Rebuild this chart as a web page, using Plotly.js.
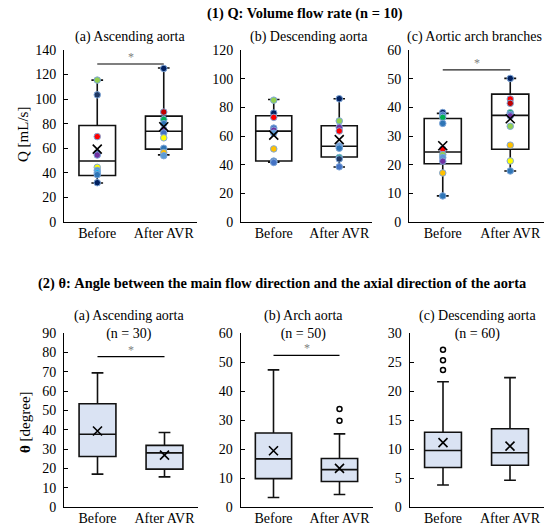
<!DOCTYPE html>
<html><head><meta charset="utf-8">
<script src="https://cdn.plot.ly/plotly-3.0.1.min.js"></script>
<style>html,body{margin:0;padding:0;background:#fff}</style>
</head><body><div id="chart" style="width:550px;height:529px"></div>
<script>
const groups = ['Before', 'After AVR'];

// (1) Q panels: box statistics [Before, After AVR]
const qAscQ1 = [37.8, 59.3], qAscMed = [49.7, 73.9], qAscQ3 = [78.6, 86.2], qAscLo = [31.8, 54.6], qAscHi = [115.5, 125.3], qAscMean = [59.3, 77.5];
const qDesQ1 = [42.6, 45.4], qDesMed = [63.4, 52.9], qDesQ3 = [74.1, 67.1], qDesLo = [41.8, 38.4], qDesHi = [85.5, 86.0], qDesMean = [60.6, 57.5];
const qBrQ1 = [20.3, 25.4], qBrMed = [24.4, 37.2], qBrQ3 = [36.1, 44.6], qBrLo = [9.1, 17.8], qBrHi = [37.9, 50.1], qBrMean = [26.6, 36.0];

// individual patients (n = 10)
const qAscBefore = [115.5, 103.5, 69.5, 56, 54.5, 44.5, 42, 40, 38.5, 32];
const qAscBeforeCol = ['#92D050', '#1F3864', '#FF0000', '#4472C4', '#7030A0', '#FFFF00', '#5B9BD5', '#00B0F0', '#2E75B6', '#002060'];
const qAscAfter = [125, 89.5, 83.5, 80, 75, 72.5, 68.5, 60, 56.5, 54];
const qAscAfterCol = ['#002060', '#C00000', '#00B050', '#2E75B6', '#7030A0', '#4472C4', '#FFFF00', '#2E75B6', '#FFC000', '#5B9BD5'];
const qDesBefore = [85, 76, 73, 65.5, 64, 62, 51, 42.5, 42, 41.5];
const qDesBeforeCol = ['#92D050', '#002060', '#FF0000', '#4472C4', '#7030A0', '#5B9BD5', '#FFC000', '#2E75B6', '#1F3864', '#4472C4'];
const qDesAfter = [86, 70.5, 66, 63.5, 53, 52.5, 51.5, 45, 44, 38.5];
const qDesAfterCol = ['#002060', '#92D050', '#7030A0', '#FF0000', '#4472C4', '#5B9BD5', '#2E75B6', '#00B050', '#1F3864', '#4472C4'];
const qBrBefore = [38.2, 37.3, 36.5, 34.4, 25.4, 23.5, 22.5, 21.2, 17.1, 9.1];
const qBrBeforeCol = ['#002060', '#4472C4', '#00B050', '#2E75B6', '#FF0000', '#92D050', '#5B9BD5', '#7030A0', '#FFC000', '#2E75B6'];
const qBrAfter = [50.1, 42.9, 41.4, 38.1, 37.5, 37, 33.4, 26.8, 21.3, 17.8];
const qBrAfterCol = ['#002060', '#FF0000', '#C00000', '#00B050', '#4472C4', '#7030A0', '#92D050', '#FFC000', '#FFFF00', '#2E75B6'];

// (2) theta panels: box statistics [Before, After AVR]
const tAscQ1 = [26.1, 19.6], tAscMed = [37.6, 28.0], tAscQ3 = [53.4, 31.9], tAscLo = [17.0, 15.6], tAscHi = [69.4, 38.5], tAscMean = [39.3, 26.8];
const tArQ1 = [9.8, 8.8], tArMed = [16.6, 12.9], tArQ3 = [25.5, 16.7], tArLo = [3.3, 4.3], tArHi = [47.3, 25.2], tArMean = [19.4, 13.3];
const tDesQ1 = [6.8, 7.2], tDesMed = [9.75, 9.35], tDesQ3 = [12.9, 13.5], tDesLo = [3.8, 4.6], tDesHi = [21.6, 22.3], tDesMean = [11.1, 10.5];
const tArOutAfter = [33.8, 29.7];
const tDesOutBefore = [27.1, 25.3, 23.6];

// significance bars (y level)
const sigQAsc = 128.6, sigQBr = 53.1, sigTAsc = 77.8, sigTAr = 52.3;

const qRanges = [[0, 140], [0, 120], [0, 60]], qDticks = [20, 20, 10];
const tRanges = [[0, 90], [0, 60], [0, 30]], tDticks = [10, 10, 5];

const FONT = 'Liberation Serif, Times New Roman, serif';
const traces = [];
function boxTrace(ax, q1, med, q3, lo, hi, fill) {
  traces.push({type: 'box', x: groups, q1: q1, median: med, q3: q3, lowerfence: lo, upperfence: hi,
    xaxis: 'x' + ax, yaxis: 'y' + ax, orientation: 'v', boxpoints: false, width: 0.55, whiskerwidth: 0.32,
    fillcolor: fill, line: {color: '#111', width: 1.6}, hoverinfo: 'skip'});
}
function pts(ax, grp, vals, cols) {
  traces.push({type: 'scatter', mode: 'markers', x: vals.map(() => grp), y: vals, xaxis: 'x' + ax, yaxis: 'y' + ax,
    marker: {size: 6.5, color: cols, line: {color: '#7FA7D9', width: 1}}, hoverinfo: 'skip'});
}
function meanTrace(ax, m) {
  traces.push({type: 'scatter', mode: 'markers', x: groups, y: m, xaxis: 'x' + ax, yaxis: 'y' + ax,
    marker: {symbol: 'x-thin', size: 9, color: '#000', line: {color: '#000', width: 1.6}}, hoverinfo: 'skip'});
}
function outTrace(ax, grp, vals) {
  traces.push({type: 'scatter', mode: 'markers', x: vals.map(() => grp), y: vals, xaxis: 'x' + ax, yaxis: 'y' + ax,
    marker: {symbol: 'circle-open', size: 5, color: '#000', line: {color: '#000', width: 1.5}}, hoverinfo: 'skip'});
}
function sigTrace(ax, y, col) {
  traces.push({type: 'scatter', mode: 'lines', x: groups, y: [y, y], xaxis: 'x' + ax, yaxis: 'y' + ax,
    line: {color: col, width: 1.3}, hoverinfo: 'skip'});
}

boxTrace('', qAscQ1, qAscMed, qAscQ3, qAscLo, qAscHi, '#fff');
pts('', 'Before', qAscBefore, qAscBeforeCol); pts('', 'After AVR', qAscAfter, qAscAfterCol);
meanTrace('', qAscMean); sigTrace('', sigQAsc, '#555');
boxTrace('2', qDesQ1, qDesMed, qDesQ3, qDesLo, qDesHi, '#fff');
pts('2', 'Before', qDesBefore, qDesBeforeCol); pts('2', 'After AVR', qDesAfter, qDesAfterCol);
meanTrace('2', qDesMean);
boxTrace('3', qBrQ1, qBrMed, qBrQ3, qBrLo, qBrHi, '#fff');
pts('3', 'Before', qBrBefore, qBrBeforeCol); pts('3', 'After AVR', qBrAfter, qBrAfterCol);
meanTrace('3', qBrMean); sigTrace('3', sigQBr, '#222');

boxTrace('4', tAscQ1, tAscMed, tAscQ3, tAscLo, tAscHi, '#DAE3F3'); meanTrace('4', tAscMean); sigTrace('4', sigTAsc, '#000');
boxTrace('5', tArQ1, tArMed, tArQ3, tArLo, tArHi, '#DAE3F3'); meanTrace('5', tArMean); outTrace('5', 'After AVR', tArOutAfter); sigTrace('5', sigTAr, '#000');
boxTrace('6', tDesQ1, tDesMed, tDesQ3, tDesLo, tDesHi, '#DAE3F3'); meanTrace('6', tDesMean); outTrace('6', 'Before', tDesOutBefore);

const W = 550, H = 529;
const xd = [[64, 197], [241, 372], [409, 544], [64, 198], [240.5, 372.5], [409.5, 543.5]];
const yd = [[50, 222], [50, 222], [50, 222], [333, 507], [333, 507], [333, 507]];
const layout = {width: W, height: H, margin: {l: 0, r: 0, t: 0, b: 0}, showlegend: false,
  paper_bgcolor: '#fff', plot_bgcolor: 'rgba(0,0,0,0)', font: {family: FONT, color: '#000', size: 14},
  annotations: [], shapes: []};
const ranges = qRanges.concat(tRanges), dticks = qDticks.concat(tDticks);
for (let i = 0; i < 6; i++) {
  const s = i === 0 ? '' : String(i + 1);
  layout['xaxis' + s] = {domain: [xd[i][0] / W, xd[i][1] / W], anchor: 'y' + s, type: 'category', categoryarray: groups,
    range: [-0.5, 1.5], showline: true, linecolor: '#000', linewidth: 1, ticks: '', showgrid: false, zeroline: false,
    ticklabelstandoff: -2, tickfont: {family: FONT, size: 14, color: '#000'}, fixedrange: true};
  layout['yaxis' + s] = {domain: [1 - yd[i][1] / H, 1 - yd[i][0] / H], anchor: 'x' + s, range: ranges[i], dtick: dticks[i],
    showline: true, linecolor: '#000', linewidth: 1, ticks: 'inside', ticklen: 4, tickcolor: '#000', showgrid: false, zeroline: false,
    ticklabelstandoff: 4, tickfont: {family: FONT, size: 14, color: '#000'}, fixedrange: true};
}
function ann(text, xpx, ypx, size, extra) {
  layout.annotations.push(Object.assign({text: text, xref: 'paper', yref: 'paper', x: xpx / W, y: 1 - ypx / H,
    showarrow: false, xanchor: 'center', yanchor: 'middle', font: {family: FONT, size: size, color: '#000'}}, extra || {}));
}
ann('<b>(1) Q: Volume flow rate (n = 10)</b>', 305, 13, 14.4);
ann('<b>(2) θ: Angle between the main flow direction and the axial direction of the aorta</b>', 282, 283, 14.4);
ann('(a) Ascending aorta', 130, 37, 14);
ann('(b) Descending aorta', 309, 37, 14);
ann('(c) Aortic arch branches', 474, 37, 14);
ann('(a) Ascending aorta<br>(n = 30)', 129, 325, 14);
ann('(b) Arch aorta<br>(n = 50)', 303, 325, 14);
ann('(c) Descending aorta<br>(n = 60)', 477, 325, 14);
ann('Q [mL/s]', 23, 135, 15, {textangle: -90});
ann('<b>θ</b> [degree]', 25, 422, 15, {textangle: -90});
const starSpec = [['', sigQAsc], ['3', sigQBr], ['4', sigTAsc], ['5', sigTAr]];
starSpec.forEach(([s, y]) => {
  layout.annotations.push({text: '*', xref: 'x' + s, yref: 'y' + s, x: 0.5, y: y, yanchor: 'bottom', yshift: -2,
    showarrow: false, font: {family: FONT, size: 12, color: '#808080'}});
});
Plotly.newPlot('chart', traces, layout, {displayModeBar: false, staticPlot: true});
</script></body></html>
